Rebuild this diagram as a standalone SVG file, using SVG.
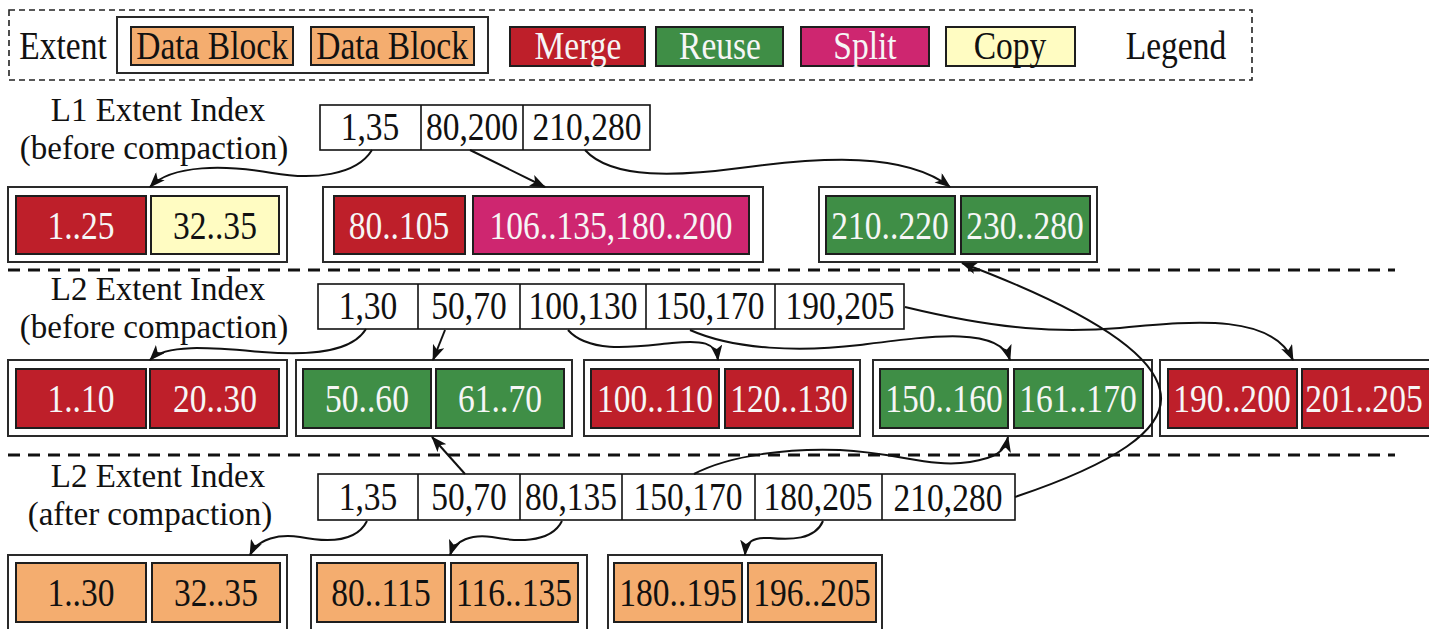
<svg xmlns="http://www.w3.org/2000/svg" width="1429" height="629" viewBox="0 0 1429 629">
  <defs>
    <marker id="arr" viewBox="0 0 16 12" refX="15" refY="6" markerWidth="16" markerHeight="12" markerUnits="userSpaceOnUse" orient="auto">
      <path d="M0,0 L16,6 L0,12 L4,6 Z" fill="#111"/>
    </marker>
    <style>
      text { font-family: "Liberation Serif", "Times New Roman", serif; font-size: 39px; text-anchor: middle;
             transform: scaleX(0.86); transform-box: fill-box; transform-origin: center; fill: #111; }
      text.lbl { font-size: 33px; transform: none; }
      text.w { fill: #f6f6f6; }
      .legendbox { fill: none; stroke: #222; stroke-width: 1.6; stroke-dasharray: 6 4; }
      .sep { stroke: #111; stroke-width: 3; stroke-dasharray: 12 8; fill: none; }
      .outer { fill: #fff; stroke: #2a2a2a; stroke-width: 2; }
      .blk { stroke: #1e1e1e; stroke-width: 2; }
      .idx { fill: #fff; stroke: #111; stroke-width: 1.6; }
      .red { fill: #BE1F2A; }
      .green { fill: #3F8E46; }
      .mag { fill: #CE2670; }
      .yel { fill: #FFFCC2; }
      .org { fill: #F4AD6F; }
      .conn path { fill: none; stroke: #111; stroke-width: 2; marker-end: url(#arr); }
    </style>
  </defs>

  <rect width="1429" height="629" fill="#fff"/>

  <!-- legend -->
  <g id="legend">
    <rect class="legendbox" x="9" y="10" width="1243" height="70"/>
    <text x="63" y="59">Extent</text>
    <rect class="outer" x="117" y="17" width="371" height="56"/>
    <rect class="blk org" x="131" y="27" width="162" height="38"/>
    <text x="212" y="59">Data Block</text>
    <rect class="blk org" x="311" y="27" width="163" height="38"/>
    <text x="392" y="59">Data Block</text>
    <rect class="blk red" x="510" y="27" width="135" height="39"/>
    <text class="w" x="578" y="59">Merge</text>
    <rect class="blk green" x="656" y="27" width="127" height="39"/>
    <text class="w" x="720" y="59">Reuse</text>
    <rect class="blk mag" x="801" y="27" width="128" height="39"/>
    <text class="w" x="865" y="59">Split</text>
    <rect class="blk yel" x="946" y="27" width="129" height="39"/>
    <text x="1010" y="59">Copy</text>
    <text x="1176" y="59">Legend</text>
  </g>

  <!-- separators -->
  <g id="separators">
    <line class="sep" x1="8" y1="270" x2="1395" y2="270"/>
    <line class="sep" x1="8" y1="455" x2="1395" y2="455"/>
  </g>

  <!-- L1 before compaction -->
  <g id="l1-label">
    <text class="lbl" x="158" y="121">L1 Extent Index</text>
    <text class="lbl" x="154" y="159">(before compaction)</text>
  </g>
  <g id="l1-index">
    <rect class="idx" x="320" y="105" width="330" height="45"/>
    <line class="idx" x1="421" y1="105" x2="421" y2="150"/>
    <line class="idx" x1="523" y1="105" x2="523" y2="150"/>
    <text x="370" y="140">1,35</text>
    <text x="472" y="140">80,200</text>
    <text x="587" y="140">210,280</text>
  </g>
  <g id="l1-ext1">
    <rect class="outer" x="8" y="187" width="279" height="75"/>
    <rect class="blk red" x="16" y="196" width="130" height="58"/>
    <text class="w" x="81" y="239">1..25</text>
    <rect class="blk yel" x="151" y="196" width="128" height="58"/>
    <text x="215" y="239">32..35</text>
  </g>
  <g id="l1-ext2">
    <rect class="outer" x="323" y="187" width="440" height="75"/>
    <rect class="blk red" x="334" y="196" width="131" height="58"/>
    <text class="w" x="399" y="239">80..105</text>
    <rect class="blk mag" x="473" y="196" width="276" height="58"/>
    <text class="w" x="611" y="239">106..135,180..200</text>
  </g>
  <g id="l1-ext3">
    <rect class="outer" x="819" y="187" width="278" height="75"/>
    <rect class="blk green" x="826" y="196" width="129" height="58"/>
    <text class="w" x="890" y="239">210..220</text>
    <rect class="blk green" x="961" y="196" width="129" height="58"/>
    <text class="w" x="1025" y="239">230..280</text>
  </g>

  <!-- L2 before compaction -->
  <g id="l2b-label">
    <text class="lbl" x="158" y="300">L2 Extent Index</text>
    <text class="lbl" x="154" y="338">(before compaction)</text>
  </g>
  <g id="l2b-index">
    <rect class="idx" x="318" y="284" width="586" height="45"/>
    <line class="idx" x1="418" y1="284" x2="418" y2="329"/>
    <line class="idx" x1="520" y1="284" x2="520" y2="329"/>
    <line class="idx" x1="646" y1="284" x2="646" y2="329"/>
    <line class="idx" x1="775" y1="284" x2="775" y2="329"/>
    <text x="368" y="319">1,30</text>
    <text x="469" y="319">50,70</text>
    <text x="583" y="319">100,130</text>
    <text x="710" y="319">150,170</text>
    <text x="840" y="319">190,205</text>
  </g>
  <g id="l2b-ext1">
    <rect class="outer" x="8" y="360" width="279" height="76"/>
    <rect class="blk red" x="16" y="369" width="130" height="59"/>
    <text class="w" x="81" y="412">1..10</text>
    <rect class="blk red" x="150" y="369" width="129" height="59"/>
    <text class="w" x="215" y="412">20..30</text>
  </g>
  <g id="l2b-ext2">
    <rect class="outer" x="296" y="360" width="276" height="76"/>
    <rect class="blk green" x="303" y="369" width="128" height="59"/>
    <text class="w" x="367" y="412">50..60</text>
    <rect class="blk green" x="436" y="369" width="128" height="59"/>
    <text class="w" x="500" y="412">61..70</text>
  </g>
  <g id="l2b-ext3">
    <rect class="outer" x="584" y="360" width="276" height="76"/>
    <rect class="blk red" x="591" y="369" width="128" height="59"/>
    <text class="w" x="655" y="412">100..110</text>
    <rect class="blk red" x="725" y="369" width="128" height="59"/>
    <text class="w" x="789" y="412">120..130</text>
  </g>
  <g id="l2b-ext4">
    <rect class="outer" x="873" y="360" width="279" height="76"/>
    <rect class="blk green" x="880" y="369" width="128" height="59"/>
    <text class="w" x="944" y="412">150..160</text>
    <rect class="blk green" x="1014" y="369" width="129" height="59"/>
    <text class="w" x="1078" y="412">161..170</text>
  </g>
  <g id="l2b-ext5">
    <rect class="outer" x="1160" y="360" width="290" height="76"/>
    <rect class="blk red" x="1168" y="369" width="129" height="59"/>
    <text class="w" x="1232" y="412">190..200</text>
    <rect class="blk red" x="1302" y="369" width="128" height="59"/>
    <text class="w" x="1364" y="412">201..205</text>
  </g>

  <!-- L2 after compaction -->
  <g id="l2a-label">
    <text class="lbl" x="158" y="487">L2 Extent Index</text>
    <text class="lbl" x="150" y="525">(after compaction)</text>
  </g>
  <g id="l2a-index">
    <rect class="idx" x="318" y="474" width="697" height="46"/>
    <line class="idx" x1="418" y1="474" x2="418" y2="520"/>
    <line class="idx" x1="520" y1="474" x2="520" y2="520"/>
    <line class="idx" x1="622" y1="474" x2="622" y2="520"/>
    <line class="idx" x1="755" y1="474" x2="755" y2="520"/>
    <line class="idx" x1="882" y1="474" x2="882" y2="520"/>
    <text x="368" y="510">1,35</text>
    <text x="469" y="510">50,70</text>
    <text x="571" y="510">80,135</text>
    <text x="688" y="510">150,170</text>
    <text x="818" y="510">180,205</text>
    <text x="948" y="511">210,280</text>
  </g>
  <g id="l2a-ext1">
    <rect class="outer" x="8" y="555" width="279" height="80"/>
    <rect class="blk org" x="16" y="563" width="130" height="59"/>
    <text x="81" y="606">1..30</text>
    <rect class="blk org" x="152" y="563" width="128" height="59"/>
    <text x="216" y="606">32..35</text>
  </g>
  <g id="l2a-ext2">
    <rect class="outer" x="311" y="555" width="276" height="80"/>
    <rect class="blk org" x="317" y="563" width="128" height="59"/>
    <text x="381" y="606">80..115</text>
    <rect class="blk org" x="451" y="563" width="127" height="59"/>
    <text x="514" y="606">116..135</text>
  </g>
  <g id="l2a-ext3">
    <rect class="outer" x="608" y="555" width="274" height="80"/>
    <rect class="blk org" x="614" y="563" width="128" height="59"/>
    <text x="678" y="606">180..195</text>
    <rect class="blk org" x="748" y="563" width="128" height="59"/>
    <text x="812" y="606">196..205</text>
  </g>

  <!-- connectors -->
  <g id="connectors" class="conn">
    <!-- L1 index to L1 extents -->
    <path d="M372,150 C356,176 312,180 272,173 C226,165 172,164 150,187"/>
    <path d="M470,150 L545,187"/>
    <path d="M585,150 C612,180 680,176 740,168 C822,157 905,152 950,187"/>
    <!-- L2 index (before) to L2 extents -->
    <path d="M366,329 C352,352 312,356 262,352 C214,348 166,343 150,360"/>
    <path d="M445,330 L433,360"/>
    <path d="M568,330 C590,355 640,346 672,343 C702,340 716,342 718,360"/>
    <path d="M690,330 C735,350 800,352 860,345 C930,336 1000,326 1010,360"/>
    <path d="M905,307 C1000,330 1060,333 1120,328 C1200,320 1272,315 1293,360"/>
    <!-- L2 index (after) to extents -->
    <path d="M367,521 C355,545 320,541 300,537 C280,534 258,538 250,555"/>
    <path d="M465,474 L432,437"/>
    <path d="M562,521 C550,545 512,541 492,537 C472,534 455,540 450,555"/>
    <path d="M694,474 C730,455 790,448 840,450 C900,453 930,468 970,462 C995,458 1005,452 1008,437"/>
    <path d="M823,521 C815,540 790,540 770,538 C752,537 746,542 745,555"/>
    <path d="M1015,497 C1110,465 1170,430 1160,390 C1150,345 1060,300 962,263"/>
  </g>
</svg>
